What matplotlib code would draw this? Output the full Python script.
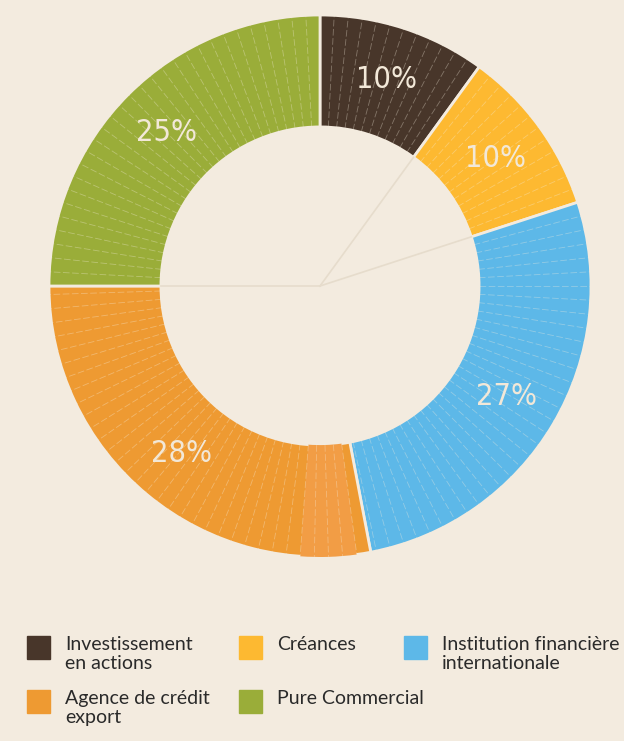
import numpy as np
import matplotlib.pyplot as plt
from matplotlib.patches import Rectangle, Wedge
from matplotlib import font_manager as fm

# data
labels = ["Investissement\nen actions", "Créances", "Institution financière\ninternationale",
          "Agence de crédit\nexport", "Pure Commercial"]
shares = [10, 10, 27, 28, 25]
colors = ["#48362a", "#fdb931", "#5db8e8", "#ee9a32", "#9aad39"]
bg = "#f3ebdf"

W, H = 624, 741
fig = plt.figure(figsize=(W / 100, H / 100), dpi=100, facecolor=bg)

# condensed face for the percentages, if available
cond = [f.fname for f in fm.fontManager.ttflist if "Condensed" in f.fname and "DejaVuSans" in f.fname
        and "Bold" not in f.fname and "Oblique" not in f.fname]
pct_font = fm.FontProperties(fname=cond[0], size=22) if cond else fm.FontProperties(family="DejaVu Sans", size=20)

# donut
ax = fig.add_axes([49 / W, (H - 557) / H, 542 / W, 542 / H])
ax.set_facecolor(bg)
width = 0.413
rin = 1 - width
wedges, _ = ax.pie(shares, colors=colors, startangle=90, counterclock=False, radius=1,
                   wedgeprops=dict(width=width, edgecolor=bg, linewidth=2))

# lighter bands in the export agency wedge near the bottom
w = wedges[3]
ax.add_patch(Wedge((0, 0), 1, w.theta2 - 15, w.theta2 - 3, width=width, color="#f29d45", lw=0, zorder=2))

for i, (w, s) in enumerate(zip(wedges, shares)):
    t1, t2 = w.theta1, w.theta2
    # thin stripes across the ring
    for a in np.arange(t2 - 3, t1 + 1, -3):
        r = np.radians(a)
        ax.plot([rin * np.cos(r), np.cos(r)], [rin * np.sin(r), np.sin(r)],
                color="#f6eede", lw=0.6, alpha=0.35, ls=(0, (8, 3)), zorder=3)
    # faint spokes in the hole (only some are visible in the original)
    if i in (0, 1, 3):
        r = np.radians(t1)
        ax.plot([0, rin * np.cos(r)], [0, rin * np.sin(r)], color="#e6dccc", lw=1.2, zorder=1)
    mid = np.radians((t1 + t2) / 2)
    ax.text(0.8 * np.cos(mid), 0.8 * np.sin(mid), f"{s}%", ha="center", va="center",
            color="#f2e8d8", fontproperties=pct_font, zorder=4)

ax.set_xlim(-1, 1)
ax.set_ylim(-1, 1)
ax.set_aspect("equal")
ax.axis("off")

# legend
lg = fig.add_axes([0, 0, 1, 1])
lg.set_xlim(0, W)
lg.set_ylim(H, 0)
lg.axis("off")
xs = [27, 239, 404, 27, 239]
ys = [636, 636, 636, 690, 690]
for x, y, lab, c in zip(xs, ys, labels, colors):
    lg.add_patch(Rectangle((x, y), 23, 23, color=c))
    lg.text(x + 38, y, lab, va="top", ha="left", fontsize=14, color="#2a2a2a",
            family="Lato", linespacing=1.12)

fig.savefig("out.png", dpi=100, facecolor=bg)
